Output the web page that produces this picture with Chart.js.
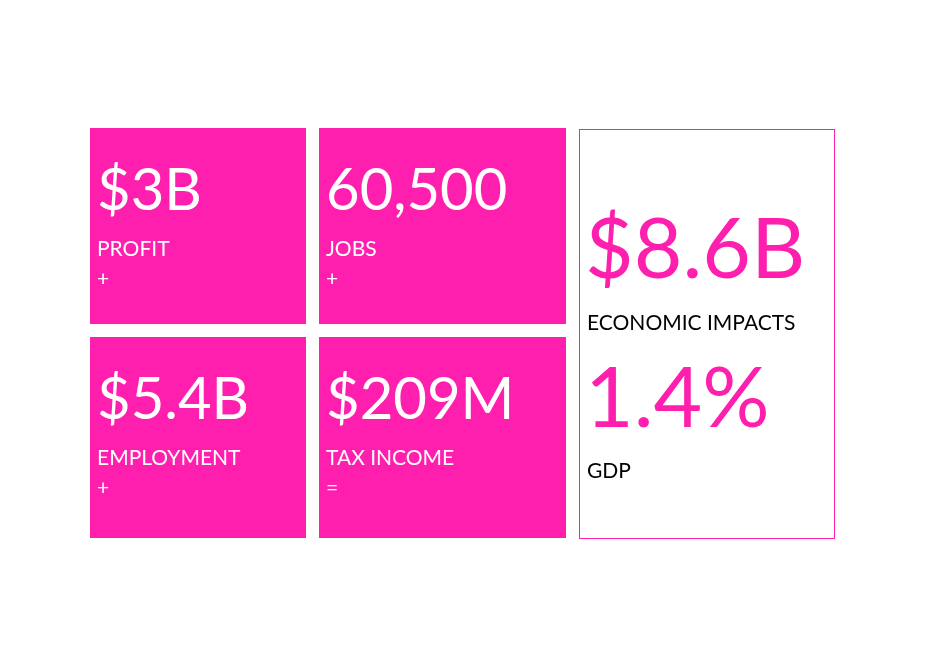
<!DOCTYPE html>
<html>
<head>
<meta charset="utf-8">
<script src="https://cdn.jsdelivr.net/npm/chart.js@4"></script>
<style>
  html, body { margin: 0; padding: 0; background: #fff; }
  #wrap { width: 934px; height: 661px; }
</style>
</head>
<body>
<div id="wrap"><canvas id="tiles"></canvas></div>
<script>
// Tile contents
const tileValues = ["$3B", "60,500", "$5.4B", "$209M"];
const tileLabels = ["PROFIT", "JOBS", "EMPLOYMENT", "TAX INCOME"];
const tileOps = ["+", "+", "+", "="];
const totalValues = ["$8.6B", "1.4%"];
const totalLabels = ["ECONOMIC IMPACTS", "GDP"];

const PINK = "#FF1FAF";
const FONT = "Lato, 'Open Sans', sans-serif";

// tile boxes in page units: [x0, y0, x1, y1]
const boxes = [
  [90, 128, 306, 324], [319, 128, 566, 324],
  [90, 337, 306, 538], [319, 337, 566, 538],
];
const totalBox = [579, 129, 834, 538];

const tilePlugin = {
  id: "tiles",
  afterDraw(chart) {
    const { ctx, scales: { x, y } } = chart;
    ctx.save();
    boxes.forEach((b, i) => {
      const x0 = x.getPixelForValue(b[0]), y0 = y.getPixelForValue(b[1]);
      const x1 = x.getPixelForValue(b[2]), y1 = y.getPixelForValue(b[3]);
      ctx.fillStyle = PINK;
      ctx.fillRect(x0, y0, x1 - x0, y1 - y0);
      ctx.fillStyle = "#fff";
      ctx.textBaseline = "alphabetic";
      ctx.font = "58px " + FONT;
      ctx.fillText(tileValues[i], x0 + 7, y0 + 82);
      ctx.font = "21px " + FONT;
      ctx.fillText(tileLabels[i], x0 + 7, y0 + 128);
      ctx.fillText(tileOps[i], x0 + 7, y0 + 158);
    });
    const t = totalBox;
    const tx0 = x.getPixelForValue(t[0]), ty0 = y.getPixelForValue(t[1]);
    const tx1 = x.getPixelForValue(t[2]), ty1 = y.getPixelForValue(t[3]);
    ctx.strokeStyle = PINK;
    ctx.lineWidth = 1;
    ctx.strokeRect(tx0 + 0.5, ty0 + 0.5, tx1 - tx0, ty1 - ty0);
    const valueBase = [278, 427], labelBase = [330, 478];
    totalValues.forEach((v, i) => {
      ctx.fillStyle = PINK;
      ctx.font = "84px " + FONT;
      ctx.fillText(v, tx0 + 6, y.getPixelForValue(valueBase[i]));
      ctx.fillStyle = "#000";
      ctx.font = "21px " + FONT;
      ctx.fillText(totalLabels[i], tx0 + 8, y.getPixelForValue(labelBase[i]));
    });
    ctx.restore();
  },
};

new Chart(document.getElementById("tiles"), {
  type: "scatter",
  data: { datasets: [{ data: [], pointRadius: 0 }] },
  options: {
    responsive: true,
    maintainAspectRatio: false,
    animation: false,
    layout: { padding: 0 },
    scales: {
      x: { type: "linear", min: 0, max: 934, display: false },
      y: { type: "linear", min: 0, max: 661, reverse: true, display: false },
    },
    plugins: { legend: { display: false }, tooltip: { enabled: false } },
  },
  plugins: [tilePlugin],
});
</script>
</body>
</html>
